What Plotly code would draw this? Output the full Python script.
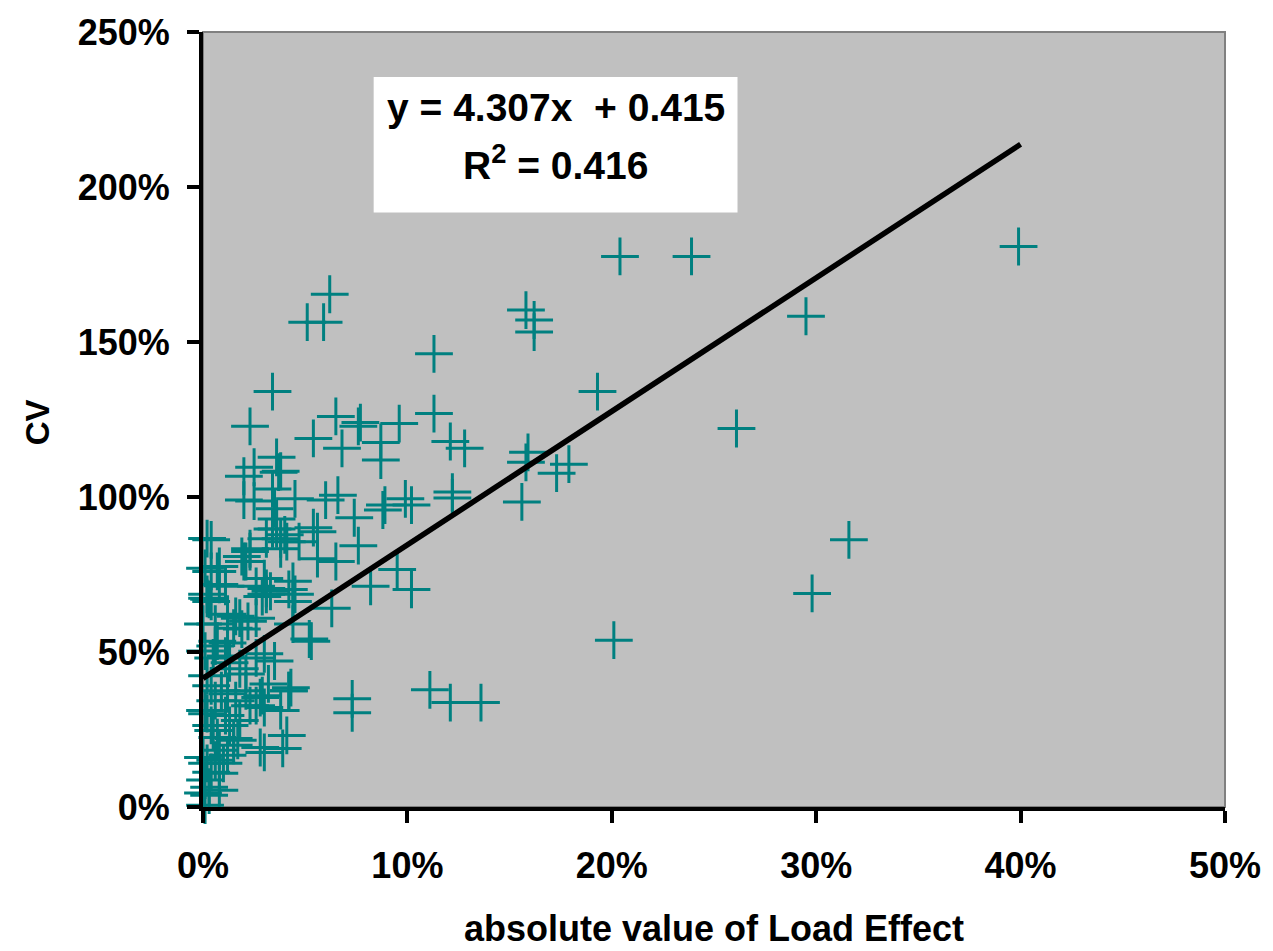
import plotly.graph_objects as go

# Absolute load effect (fraction) and coefficient of variation (fraction)
load_effect = [
    0.399, 0.239, 0.204, 0.295, 0.261, 0.316, 0.298, 0.201, 0.193, 0.158,
    0.162, 0.162, 0.113, 0.113, 0.121, 0.128, 0.099, 0.102, 0.122, 0.122,
    0.159, 0.158, 0.179, 0.173, 0.156, 0.102, 0.111, 0.121, 0.136, 0.062,
    0.051, 0.059, 0.034, 0.023, 0.065, 0.077, 0.076, 0.096, 0.054, 0.068,
    0.087, 0.087, 0.036, 0.025, 0.020, 0.038, 0.037, 0.034, 0.020, 0.025,
    0.045, 0.060, 0.066, 0.035, 0.074, 0.089, 0.088, 0.036, 0.004, 0.036,
    0.038, 0.054, 0.056, 0.047, 0.076, 0.056, 0.065, 0.023, 0.020, 0.031,
    0.038, 0.041, 0.004, 0.008, 0.002, 0.003, 0.011, 0.030, 0.031, 0.031,
    0.029, 0.044, 0.045, 0.044, 0.063, 0.082, 0.095, 0.000, 0.012, 0.018,
    0.022, 0.026, 0.015, 0.019, 0.044, 0.052, 0.005, 0.002, 0.013, 0.018,
    0.021, 0.026, 0.030, 0.035, 0.009, 0.012, 0.028, 0.026, 0.030, 0.038,
    0.042, 0.073, 0.073, 0.001, 0.002, 0.005, 0.007, 0.015, 0.017, 0.028,
    0.030, 0.041, 0.039, 0.000, 0.002, 0.004, 0.001, 0.003, 0.000, 0.010,
    0.008, 0.032, 0.043, 0.042, 0.029, 0.002, 0.001, 0.007, 0.002, 0.004,
    0.008, 0.016, 0.006, 0.007, 0.012, 0.019, 0.023, 0.021, 0.033, 0.026,
    0.042, 0.034, 0.040, 0.053, 0.006, 0.011, 0.004, 0.013, 0.008, 0.012,
    0.006, 0.003, 0.001, 0.008, 0.015, 0.004, 0.016, 0.021, 0.023, 0.018,
    0.001, 0.011, 0.006,
]
cv = [
    1.808, 1.776, 1.776, 1.583, 1.221, 0.862, 0.689, 0.538, 1.340, 1.603,
    1.571, 1.532, 1.462, 1.269, 1.179, 1.157, 0.994, 0.974, 1.016, 0.997,
    1.144, 1.112, 1.106, 1.077, 0.984, 0.702, 0.378, 0.337, 0.337, 1.654,
    1.564, 1.564, 1.340, 1.228, 1.260, 1.240, 1.228, 1.237, 1.189, 1.157,
    1.176, 1.119, 1.128, 1.096, 1.067, 1.083, 1.080, 1.026, 0.990, 0.987,
    0.994, 0.990, 1.006, 0.962, 0.933, 0.974, 0.958, 0.929, 0.862, 0.897,
    0.865, 0.901, 0.888, 0.856, 0.843, 0.801, 0.792, 0.833, 0.792, 0.865,
    0.833, 0.856, 0.760, 0.776, 0.686, 0.670, 0.712, 0.737, 0.705, 0.686,
    0.679, 0.728, 0.686, 0.663, 0.641, 0.712, 0.766, 0.590, 0.622, 0.609,
    0.599, 0.609, 0.577, 0.574, 0.590, 0.542, 0.481, 0.423, 0.465, 0.446,
    0.429, 0.481, 0.494, 0.471, 0.375, 0.365, 0.353, 0.327, 0.321, 0.311,
    0.375, 0.349, 0.304, 0.311, 0.301, 0.247, 0.224, 0.221, 0.215, 0.192,
    0.176, 0.231, 0.189, 0.160, 0.141, 0.112, 0.087, 0.064, 0.045, 0.141,
    0.109, 0.397, 0.385, 0.375, 0.359, 0.866, 0.770, 0.760, 0.673, 0.663,
    0.718, 0.615, 0.590, 0.535, 0.529, 0.808, 0.824, 0.792, 0.696, 0.712,
    0.702, 0.897, 0.878, 0.535, 0.343, 0.295, 0.263, 0.263, 0.183, 0.167,
    0.151, 0.038, 0.006, 0.054, 0.199, 0.391, 0.343, 0.375, 0.327, 0.279,
    0.503, 0.487, 0.519,
]

# Linear trend: y = slope * x + intercept, drawn over the fitted range
slope = 4.307
intercept = 0.415
r_squared = 0.416
trend_x = [0.0, 0.40]
trend_y = [slope * v + intercept for v in trend_x]

x_ticks = [0, 0.1, 0.2, 0.3, 0.4, 0.5]
y_ticks = [0, 0.5, 1.0, 1.5, 2.0, 2.5]

teal = "#008080"
font_family = "Liberation Sans, Arial, sans-serif"

fig = go.Figure()
fig.add_trace(go.Scatter(
    x=load_effect, y=cv, mode="markers", cliponaxis=False,
    marker=dict(symbol="cross-thin", size=27,
                line=dict(color=teal, width=3), color=teal),
    showlegend=False, hoverinfo="x+y",
))
fig.add_trace(go.Scatter(
    x=trend_x, y=trend_y, mode="lines",
    line=dict(color="black", width=5.5), showlegend=False,
))

axis_common = dict(
    showgrid=False, zeroline=False, showline=True, linecolor="black",
    linewidth=4, ticks="outside", ticklen=12, tickwidth=4,
    tickcolor="black", tickformat=".0%",
    tickfont=dict(family=font_family, size=36, color="black", weight="bold"),
)

fig.update_layout(
    width=1273, height=951,
    margin=dict(l=203, r=46, t=28, b=144),
    paper_bgcolor="white", plot_bgcolor="#c0c0c0",
    font=dict(family=font_family, color="black"),
    xaxis=dict(range=[0, 0.5], tickvals=x_ticks, ticklabelstandoff=12,
               **axis_common),
    yaxis=dict(range=[0, 2.5], tickvals=y_ticks, ticklabelstandoff=10,
               **axis_common),
    shapes=[
        # thin grey frame along the top and right of the plot area
        dict(type="rect", xref="paper", yref="paper", x0=0, x1=1, y0=0, y1=1,
             line=dict(color="#808080", width=2), layer="below"),
        # white box holding the regression equation
        dict(type="rect", xref="paper", yref="paper",
             x0=0.167, x1=0.523, y0=0.767, y1=0.942,
             fillcolor="white", line=dict(width=0), layer="above"),
    ],
    annotations=[
        dict(text=f"<b>y = {slope}x  + {intercept}</b>", xref="paper",
             yref="paper", x=0.345, y=0.902, yanchor="middle",
             showarrow=False,
             font=dict(size=39, family=font_family, color="black")),
        dict(text=f"<b>R<sup>2</sup> = {r_squared}</b>", xref="paper",
             yref="paper", x=0.345, y=0.831, yanchor="middle",
             showarrow=False,
             font=dict(size=39, family=font_family, color="black")),
        dict(text="<b>absolute value of Load Effect</b>", xref="paper",
             yref="paper", x=0.5, y=-0.157, yanchor="middle",
             showarrow=False,
             font=dict(size=36, family=font_family, color="black")),
        dict(text="<b>CV</b>", xref="paper", yref="paper", x=-0.162,
             y=0.497, xanchor="center", yanchor="middle", textangle=-90,
             showarrow=False,
             font=dict(size=33, family=font_family, color="black")),
    ],
)

fig.write_html("out.html")
